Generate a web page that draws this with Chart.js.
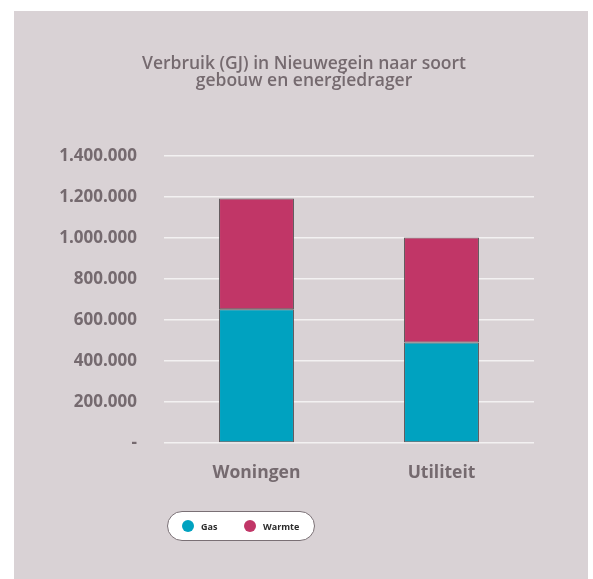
<!DOCTYPE html>
<html>
<head>
<meta charset="utf-8">
<script src="https://cdn.jsdelivr.net/npm/chart.js@4.4.1/dist/chart.umd.min.js"></script>
<style>
  body { margin: 0; background: #fff; }
  #panel { position: absolute; left: 14px; top: 11px; width: 574px; height: 568px; background: #d9d2d5; }
  #chart { position: absolute; left: 0; top: 0; }
  #legend {
    position: absolute; left: 153px; top: 500px; width: 146px; height: 28px;
    background: #fff; border: 1px solid #7a7075; border-radius: 15px;
    font-family: "Open Sans", sans-serif; font-weight: 700; font-size: 9px; color: #2b2b2b;
  }
  #legend .item { position: absolute; top: 0; height: 28px; display: flex; align-items: center; }
  #legend .dot { width: 12px; height: 12px; border-radius: 50%; margin-right: 7px; }
</style>
</head>
<body>
<div id="panel">
  <canvas id="chart" width="574" height="568"></canvas>
  <div id="legend"></div>
</div>
<script>
const categories = ['Woningen', 'Utiliteit'];
const gasValues = [652000, 490000];
const warmteValues = [540000, 512000];
const seriesNames = ['Gas', 'Warmte'];
const seriesColors = ['#00a2c0', '#c13667'];
const tickValues = [0, 200000, 400000, 600000, 800000, 1000000, 1200000, 1400000];

const textColor = '#756a6f';

function formatNumber(v) {
    if (v === 0) return '-';
    return v.toString().replace(/\B(?=(\d{3})+(?!\d))/g, '.');
}

const ctx = document.getElementById('chart').getContext('2d');
const chart = new Chart(ctx, {
    type: 'bar',
    data: {
        labels: categories,
        datasets: [
            { label: seriesNames[0], data: gasValues, backgroundColor: seriesColors[0] },
            { label: seriesNames[1], data: warmteValues, backgroundColor: seriesColors[1] }
        ].map(ds => Object.assign(ds, {
            borderColor: '#5b5357',
            borderWidth: 1,
            borderSkipped: false,
            categoryPercentage: 1,
            barPercentage: 0.405
        }))
    },
    options: {
        responsive: false,
        animation: false,
        layout: { padding: { left: 6, right: 0, top: 0, bottom: 0 } },
        plugins: {
            legend: { display: false },
            tooltip: { enabled: false },
            title: {
                display: true,
                text: ['Verbruik (GJ) in Nieuwegein naar soort', 'gebouw en energiedrager'],
                color: textColor,
                font: { family: 'Open Sans', size: 17.5, weight: '600', lineHeight: 0.97 },
                padding: { top: 45, bottom: 66 }
            }
        },
        scales: {
            x: {
                stacked: true,
                grid: { display: false },
                border: { display: false },
                ticks: {
                    color: textColor,
                    font: { family: 'Open Sans', size: 17.5, weight: '700' },
                    padding: 12
                },
                afterFit: s => { s.height = 136; }
            },
            y: {
                stacked: true,
                min: 0,
                max: 1400000,
                afterBuildTicks: s => { s.ticks = tickValues.map(v => ({ value: v })); },
                grid: { color: '#f3f1f2', lineWidth: 1.5, drawTicks: false },
                border: { display: false },
                ticks: {
                    color: textColor,
                    font: { family: 'Open Sans', size: 17, weight: '700' },
                    padding: 27,
                    callback: v => formatNumber(v)
                },
                afterFit: s => { s.width = 144; }
            },
            // empty right-hand axis, only to keep the plot away from the right edge
            yRight: {
                position: 'right',
                grid: { display: false },
                border: { display: false },
                ticks: { display: false },
                afterFit: s => { s.width = 54; }
            }
        }
    }
});

// legend as a pill box under the chart
const legend = document.getElementById('legend');
const itemLeft = [14, 76];
chart.data.datasets.forEach((ds, i) => {
    const item = document.createElement('div');
    item.className = 'item';
    item.style.left = itemLeft[i] + 'px';
    item.innerHTML = `<span class="dot" style="background:${ds.backgroundColor}"></span>${ds.label}`;
    legend.appendChild(item);
});
</script>
</body>
</html>
